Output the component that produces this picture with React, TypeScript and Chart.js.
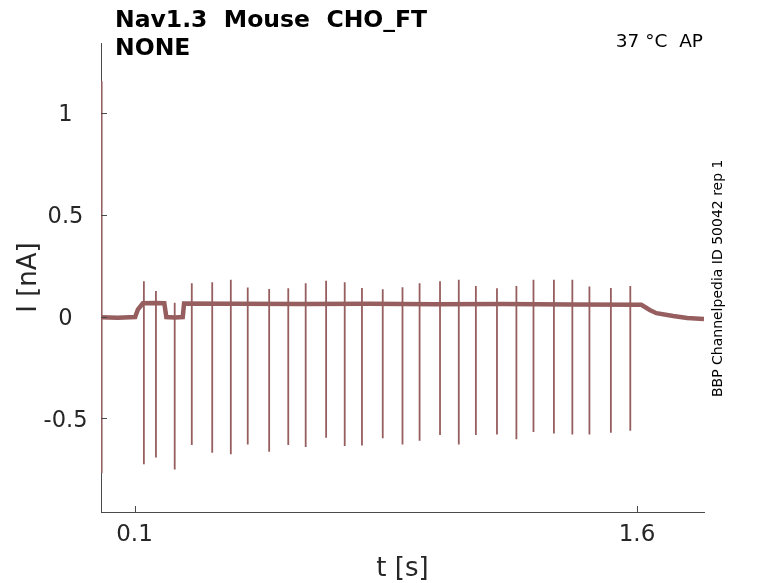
import React, { useEffect, useRef } from "react";
import { Chart, registerables } from "chart.js";

Chart.register(...registerables);

// ---------- text ----------
const titleLines = ["Nav1.3  Mouse  CHO_FT", "NONE"];
const conditionLabel = "37 °C  AP";
const sideLabel = "BBP Channelpedia ID 50042 rep 1";
const xAxisTitle = "t [s]";
const yAxisTitle = "I [nA]";

// ---------- axes ----------
const xTickValues = [0.1, 1.6];
const yTickValues = [-0.5, 0, 0.5, 1];
const xRange = [0, 1.8];
const yRange = [-0.96, 1.345];

// ---------- baseline (holding current level over time) ----------
const baselineTimes = [0, 0.05, 0.102, 0.11, 0.125, 0.16, 0.189, 0.195, 0.22, 0.244, 0.248, 0.4, 0.6, 0.8, 1.0, 1.2, 1.4, 1.613, 1.638, 1.658, 1.708, 1.75, 1.8];
const baselineValues = [-0.003, -0.005, -0.002, 0.035, 0.066, 0.067, 0.066, -0.002, -0.004, -0.002, 0.065, 0.063, 0.062, 0.063, 0.061, 0.062, 0.06, 0.058, 0.033, 0.017, 0.003, -0.006, -0.012];

// ---------- spikes (time, peak, trough) ----------
const spikeTimes = [0.002, 0.128, 0.164, 0.22, 0.271, 0.332, 0.3875, 0.438, 0.502, 0.559, 0.611, 0.672, 0.7275, 0.779, 0.841, 0.9, 0.951, 1.012, 1.068, 1.119, 1.182, 1.24, 1.291, 1.352, 1.407, 1.458, 1.522, 1.58];
const spikePeaks = [1.157, 0.174, 0.126, 0.069, 0.164, 0.169, 0.181, 0.143, 0.136, 0.14, 0.164, 0.177, 0.169, 0.141, 0.135, 0.145, 0.164, 0.174, 0.181, 0.151, 0.14, 0.151, 0.181, 0.181, 0.181, 0.148, 0.141, 0.151];
const spikeTroughs = [-0.769, -0.725, -0.692, -0.751, -0.631, -0.669, -0.676, -0.628, -0.664, -0.631, -0.64, -0.595, -0.636, -0.633, -0.598, -0.628, -0.61, -0.582, -0.628, -0.582, -0.579, -0.602, -0.567, -0.574, -0.579, -0.579, -0.571, -0.561];

const traceColor = "rgb(150, 94, 94)";
const axisColor = "#4a4a4a";
const labelColor = "#262626";
const FONT = "'DejaVu Sans', 'Liberation Sans', sans-serif";

const decorPlugin = {
  id: "decor",
  afterDraw(chart: any) {
    const ctx = chart.ctx as CanvasRenderingContext2D;
    const xs = chart.scales.x;
    const ys = chart.scales.y;
    ctx.save();
    // inward tick marks
    ctx.strokeStyle = axisColor;
    ctx.lineWidth = 1;
    ctx.beginPath();
    xs.ticks.forEach((t: any) => {
      const px = Math.round(xs.getPixelForValue(t.value)) + 0.5;
      ctx.moveTo(px, ys.bottom);
      ctx.lineTo(px, ys.bottom - 6);
    });
    ys.ticks.forEach((t: any) => {
      const py = Math.round(ys.getPixelForValue(t.value)) + 0.5;
      ctx.moveTo(xs.left, py);
      ctx.lineTo(xs.left + 6, py);
    });
    ctx.stroke();

    // y tick labels
    ctx.fillStyle = labelColor;
    ctx.font = `22.5px ${FONT}`;
    ctx.textAlign = "center";
    ctx.textBaseline = "alphabetic";
    ys.ticks.forEach((t: any) => {
      const py = ys.getPixelForValue(t.value);
      ctx.fillText(String(t.value), 65.5, py + 8.3);
    });

    // title
    ctx.fillStyle = "#000";
    ctx.textAlign = "left";
    ctx.font = `bold 23.5px ${FONT}`;
    ctx.fillText(titleLines[0], 115, 26.7);
    ctx.fillText(titleLines[1], 115, 55);

    // condition label
    ctx.font = `18.5px ${FONT}`;
    ctx.textAlign = "right";
    ctx.fillText(conditionLabel, 703, 46.7);

    // side label (rotated)
    ctx.save();
    ctx.translate(722, 278.3);
    ctx.rotate(-Math.PI / 2);
    ctx.textAlign = "center";
    ctx.font = `14px ${FONT}`;
    ctx.fillText(sideLabel, 0, 0);
    ctx.restore();

    // axis titles
    ctx.fillStyle = labelColor;
    ctx.font = `26px ${FONT}`;
    ctx.textAlign = "center";
    ctx.fillText(xAxisTitle, (xs.left + xs.right) / 2, 576);
    ctx.save();
    ctx.translate(36, (ys.top + ys.bottom) / 2);
    ctx.rotate(-Math.PI / 2);
    ctx.fillText(yAxisTitle, 0, 0);
    ctx.restore();

    ctx.restore();
  },
};

export default function App() {
  const canvasRef = useRef<HTMLCanvasElement | null>(null);

  useEffect(() => {
    document.body.style.margin = "0";
    const canvas = canvasRef.current;
    if (!canvas) return;

    const baselineData = baselineTimes.map((t, i) => ({ x: t, y: baselineValues[i] }));
    const spikeData: { x: number; y: number | null }[] = [];
    spikeTimes.forEach((t, i) => {
      spikeData.push({ x: t, y: spikePeaks[i] });
      spikeData.push({ x: t, y: spikeTroughs[i] });
      spikeData.push({ x: t, y: null });
    });

    const chart = new Chart(canvas, {
      type: "line",
      data: {
        datasets: [
          {
            data: baselineData,
            borderColor: traceColor,
            borderWidth: 4.5,
            pointRadius: 0,
            tension: 0,
          },
          {
            data: spikeData as any,
            borderColor: traceColor,
            borderWidth: 1.8,
            pointRadius: 0,
            tension: 0,
            spanGaps: false,
          },
        ],
      },
      options: {
        animation: false,
        responsive: false,
        devicePixelRatio: 1,
        layout: { padding: { top: 43, right: 74, left: 0, bottom: 0 } },
        plugins: {
          legend: { display: false },
          tooltip: { enabled: false },
          title: { display: false },
        },
        scales: {
          x: {
            type: "linear",
            min: xRange[0],
            max: xRange[1],
            grid: { display: false, drawTicks: false },
            border: { display: true, color: axisColor, width: 1 },
            afterBuildTicks: (scale: any) => {
              scale.ticks = xTickValues.map((v) => ({ value: v }));
            },
            afterFit: (scale: any) => {
              scale.height = 71;
            },
            ticks: {
              autoSkip: false,
              maxRotation: 0,
              padding: 9,
              color: labelColor,
              font: { family: FONT, size: 23 },
              callback: (v: any) => String(v),
            },
          },
          y: {
            type: "linear",
            min: yRange[0],
            max: yRange[1],
            grid: { display: false, drawTicks: false },
            border: { display: true, color: axisColor, width: 1 },
            afterBuildTicks: (scale: any) => {
              scale.ticks = yTickValues.map((v) => ({ value: v }));
            },
            afterFit: (scale: any) => {
              scale.width = 101;
            },
            ticks: { display: false },
          },
        },
      },
      plugins: [decorPlugin],
    });

    return () => chart.destroy();
  }, []);

  return (
    <div style={{ position: "absolute", left: 0, top: 0, width: 778, height: 583, background: "#fff" }}>
      <canvas ref={canvasRef} width={778} height={583} />
    </div>
  );
}
